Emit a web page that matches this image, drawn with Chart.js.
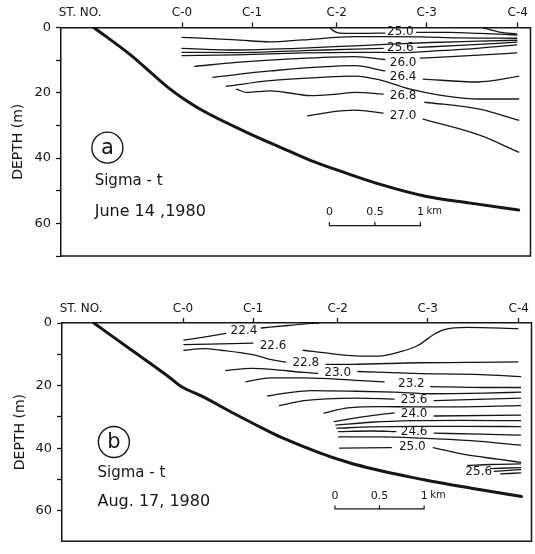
<!DOCTYPE html>
<html>
<head>
<meta charset="utf-8">
<title>Sigma-t sections</title>
<script src="https://cdn.jsdelivr.net/npm/chart.js@4.4.1/dist/chart.umd.min.js"></script>
<style>
  html, body { margin: 0; padding: 0; background: #fff; overflow: hidden; }
  #wrap { position: relative; width: 535px; height: 554px; }
  canvas { position: absolute; left: 0; }
</style>
</head>
<body>
<div id="wrap">
  <canvas id="chartA" width="535" height="280" style="top:0"></canvas>
  <canvas id="chartB" width="535" height="278" style="top:276px"></canvas>
</div>
<script>
const INK = '#151515';
const FONT = '"DejaVu Sans", "Liberation Sans", sans-serif';

// top axis: station names and their distance along the section (km)
const STATIONS = ['ST. NO.', 'C-0', 'C-1', 'C-2', 'C-3', 'C-4'];
const STATION_KM = [0.21, 1.33, 2.10, 3.03, 4.02, 5.02];
const DEPTH_LABELS = [0, 20, 40, 60];

// ---- (a) June 14, 1980 : [km, depth m], null = break for a label
const BOTTOM_A = [[0.36, 0], [0.76, 8.3], [1.20, 18.9], [1.33, 21.5], [1.56, 25.5], [2.04, 32.1],
  [2.41, 36.7], [2.74, 40.7], [3.08, 44.1], [3.5, 48], [4.02, 51.8], [4.5, 53.8], [5.03, 55.9]];
const A_248 = [[4.63, 0], [4.82, 1.4], [5.01, 2.0]];
const A_250 = [[2.95, 0], [3.02, 1.4], [3.12, 1.8], [3.30, 1.8], [3.56, 1.7], null, [3.91, 1.5], [4.27, 1.5], [4.60, 1.8], [5.01, 2.3]];
const A_252 = [[1.33, 3.0], [1.93, 3.8], [2.30, 4.4], [2.66, 3.8], [3.23, 2.8], [3.56, 2.8], [3.95, 2.9], [4.38, 3.2], [5.01, 3.3]];
const A_254 = [[1.33, 6.4], [1.93, 6.9], [2.66, 6.3], [3.23, 5.6], [3.62, 5.1], [4.05, 4.6], [4.60, 4.2], [5.01, 3.9]];
const A_256 = [[1.33, 7.6], [1.93, 7.7], [2.66, 7.1], [3.23, 6.6], [3.54, 6.4], null, [3.92, 6.1], [4.38, 5.5], [5.01, 4.5]];
const A_258 = [[1.33, 8.6], [1.93, 8.4], [2.66, 7.8], [3.23, 7.6], [3.73, 7.7], [4.16, 7.1], [4.60, 6.3], [5.01, 5.3]];
const A_260 = [[1.47, 11.9], [1.93, 10.7], [2.48, 9.7], [3.23, 8.9], [3.56, 9.8], null, [3.95, 9.4], [4.49, 8.6], [5.01, 7.8]];
const A_264 = [[1.67, 15.3], [2.30, 13.3], [3.23, 11.7], [3.56, 13.3], null, [3.98, 15.8], [4.58, 16.7], [5.03, 15.0]];
const A_266 = [[1.82, 18.0], [2.30, 16.3], [2.85, 15.3], [3.23, 14.9], [3.51, 16.1], [3.84, 18.9], [4.16, 20.7], [4.60, 21.9], [5.03, 21.9]];
const A_268 = [[1.93, 18.9], [2.04, 19.9], [2.30, 19.4], [2.59, 20.4], [2.74, 20.9], [3.03, 20.4], [3.23, 19.9], [3.54, 20.4], null, [4.00, 22.9], [4.60, 25.0], [5.03, 28.4]];
const A_270 = [[2.71, 27.1], [2.96, 25.9], [3.23, 25.3], [3.54, 26.2], null, [3.98, 28.1], [4.60, 33.0], [5.03, 38.2]];
const LABELS_A = [['25.0', 3.73, 1.4], ['25.6', 3.73, 6.3], ['26.0', 3.76, 10.9], ['26.4', 3.76, 15.2], ['26.8', 3.76, 21.0], ['27.0', 3.76, 27.1]];
const SCALE_A = [2.95, 3.45, 3.95];

// ---- (b) Aug. 17, 1980
const BOTTOM_B = [[0.35, 0], [0.79, 9.2], [1.20, 17.8], [1.31, 20.3], [1.53, 23.3], [1.89, 28.9], [2.19, 33.4],
  [2.41, 36.5], [3.14, 44.5], [3.98, 50.1], [4.5, 52.8], [5.05, 55.4]];
const B_224 = [[1.34, 5.5], [1.56, 4.5], [1.80, 3.3], null, [2.19, 1.6], [2.48, 0.8], [2.74, 0.15], [2.82, 0]];
const B_226 = [[1.34, 6.9], [1.75, 6.7], [2.10, 6.4], null, [2.65, 8.7], [2.96, 9.8], [3.23, 10.5], [3.47, 10.6], [3.73, 9.1],
  [3.91, 7.2], [4.09, 3.6], [4.20, 2.1], [4.46, 1.4], [5.01, 1.8]];
const B_228 = [[1.34, 8.7], [1.56, 8.2], [1.75, 8.7], [2.11, 10.2], [2.30, 11.7], [2.46, 12.5], null, [2.90, 13.2], [3.18, 13.2], [3.91, 12.7], [4.46, 12.6], [5.01, 12.4]];
const B_230 = [[1.80, 15.2], [2.08, 14.5], [2.30, 14.8], [2.66, 15.8], [2.81, 16.1], null, [3.25, 15.5], [3.87, 16.1], [4.60, 16.5], [5.04, 17.1]];
const B_232 = [[2.02, 18.8], [2.30, 17.5], [2.66, 17.5], [3.23, 18.3], [3.54, 18.8], null, [4.05, 20.3], [4.64, 20.6], [5.04, 20.6]];
const B_234 = [[2.26, 23.3], [2.48, 22.3], [2.74, 21.6], [3.23, 21.8], [3.65, 22.1], [4.05, 22.6], [4.64, 22.4], [5.04, 22.1]];
const B_236 = [[2.39, 26.4], [2.66, 24.8], [3.23, 24.0], [3.65, 24.3], null, [4.09, 24.8], [5.04, 24.0]];
const B_238 = [[2.88, 28.8], [3.14, 27.1], [3.51, 26.7], [3.87, 26.8], [4.27, 26.8], [5.04, 26.4]];
const B_240 = [[2.99, 31.5], [3.23, 30.3], [3.65, 28.7], null, [4.09, 29.7], [5.04, 29.4]];
const B_242 = [[3.01, 32.6], [3.40, 31.7], [3.87, 31.2], [4.38, 31.1], [5.04, 31.2]];
const B_244 = [[3.02, 33.6], [3.40, 33.2], [3.87, 33.0], [4.38, 33.0], [5.04, 33.1]];
const B_246 = [[3.04, 34.7], [3.40, 34.5], [3.67, 34.7], null, [4.09, 35.2], [4.60, 35.5], [5.04, 35.8]];
const B_248 = [[3.04, 36.4], [3.51, 36.4], [3.95, 36.8], [4.49, 37.6], [5.04, 39.0]];
const B_250 = [[3.05, 40.0], [3.62, 39.8], null, [4.08, 39.8], [4.42, 42.0], [4.79, 43.5], [5.04, 44.5]];
const B_252 = [[4.46, 45.5], [4.71, 45.2], [5.04, 45.0]];
const B_254 = [[4.71, 46.5], [5.04, 46.2]];
const B_256 = [[4.75, 47.4], [5.04, 46.8]];
const B_258 = [[4.82, 48.2], [5.04, 47.9]];
const LABELS_B = [['22.4', 2.00, 2.4], ['22.6', 2.32, 7.4], ['22.8', 2.68, 12.7], ['23.0', 3.03, 15.8], ['23.2', 3.84, 19.6],
  ['23.6', 3.87, 24.6], ['24.0', 3.87, 29.1], ['24.6', 3.87, 34.9], ['25.0', 3.85, 39.5], ['25.6', 4.58, 47.4]];
const SCALE_B = [3.0, 3.49, 3.98];

function toPts(line) {
  return line.map((p, i) => p === null ? { x: line[i - 1][0], y: null } : { x: p[0], y: p[1] });
}

function lineSet(line, width, extra) {
  return Object.assign({
    data: toPts(line),
    borderColor: INK,
    backgroundColor: INK,
    borderWidth: width,
    pointRadius: 0,
    fill: false,
    spanGaps: false,
    cubicInterpolationMode: 'monotone',
    borderCapStyle: 'round',
    borderJoinStyle: 'round'
  }, extra || {});
}

const decor = {
  id: 'decor',
  afterDatasetsDraw(chart, args, o) {
    const { ctx, chartArea: a, scales: { x, y } } = chart;
    const px = km => x.getPixelForValue(km);
    const py = d => y.getPixelForValue(d);
    ctx.save();
    ctx.strokeStyle = INK;
    ctx.fillStyle = INK;
    // right and bottom edge of the frame
    ctx.lineWidth = 1.5;
    ctx.beginPath();
    ctx.moveTo(a.right, a.top);
    ctx.lineTo(a.right, a.bottom);
    ctx.lineTo(a.left, a.bottom);
    ctx.stroke();
    // contour values
    ctx.textAlign = 'center';
    ctx.textBaseline = 'middle';
    ctx.font = '12px ' + FONT;
    o.labels.forEach(([t, km, d]) => ctx.fillText(t, px(km), py(d)));
    // scale bar text
    ctx.font = '11px ' + FONT;
    ctx.fillText('0', px(o.scale[0]), py(o.scaleText));
    ctx.fillText('0.5', px(o.scale[1]), py(o.scaleText));
    ctx.fillText('1', px(o.scale[2]), py(o.scaleText));
    ctx.textAlign = 'left';
    ctx.font = '10px ' + FONT;
    ctx.fillText('km', px(o.scale[2]) + 6, py(o.scaleText) - 1);
    // circled panel letter
    const cx = px(o.letterAt[0]), cy = py(o.letterAt[1]);
    ctx.lineWidth = 1.4;
    ctx.beginPath();
    ctx.arc(cx, cy, 15.5, 0, Math.PI * 2);
    ctx.stroke();
    ctx.textAlign = 'center';
    ctx.font = '21px ' + FONT;
    ctx.fillText(o.letter, cx, cy + 1);
    // panel notes
    ctx.textAlign = 'left';
    o.notes.forEach(([t, km, d, size]) => {
      ctx.font = size + 'px ' + FONT;
      ctx.fillText(t, px(km), py(d));
    });
    ctx.restore();
  }
};

function makeChart(id, p) {
  const datasets = p.lines.map(l => lineSet(l, 1.3));
  datasets.push(lineSet(p.bottom, 3));
  const [s0, s1, s2] = p.scale;
  const bd = p.scaleDepth;
  const straight = { tension: 0, cubicInterpolationMode: 'default' };
  datasets.push(lineSet([[s0, bd - 1], [s0, bd], [s2, bd], [s2, bd - 1]], 1.2, straight));
  datasets.push(lineSet([[s1, bd], [s1, bd - 1]], 1.2, straight));

  return new Chart(document.getElementById(id), {
    type: 'line',
    data: { datasets },
    plugins: [decor],
    options: {
      responsive: false,
      animation: false,
      events: [],
      layout: { padding: p.padding },
      plugins: {
        legend: { display: false },
        tooltip: { enabled: false },
        decor: p.decor
      },
      scales: {
        x: {
          type: 'linear',
          position: 'top',
          min: 0,
          max: 5.16,
          afterBuildTicks: s => { s.ticks = STATION_KM.map(v => ({ value: v })); },
          afterFit: s => { s.height = 27.5; },
          ticks: {
            autoSkip: false,
            maxRotation: 0,
            padding: 2,
            color: INK,
            font: { family: FONT, size: 12 },
            callback: (v, i) => STATIONS[i]
          },
          grid: {
            drawOnChartArea: false,
            tickLength: 5,
            tickWidth: 1.3,
            tickColor: c => c.index === 0 ? 'rgba(0,0,0,0)' : INK
          },
          border: { color: INK, width: 1.5 }
        },
        y: {
          type: 'linear',
          reverse: true,
          min: 0,
          max: p.yMax,
          afterFit: s => { s.width = p.axisWidth; },
          ticks: {
            stepSize: 10,
            includeBounds: false,
            padding: 5,
            color: INK,
            font: { family: FONT, size: 13 },
            callback: v => DEPTH_LABELS.includes(v) ? String(v) : ''
          },
          grid: { drawOnChartArea: false, tickLength: 5, tickWidth: 1.3, tickColor: INK },
          border: { color: INK, width: 1.5 },
          title: {
            display: true,
            text: 'DEPTH (m)',
            color: INK,
            font: { family: FONT, size: 14 },
            padding: { top: p.titlePad, bottom: 0 }
          }
        }
      }
    }
  });
}

makeChart('chartA', {
  lines: [A_248, A_250, A_252, A_254, A_256, A_258, A_260, A_264, A_266, A_268, A_270],
  bottom: BOTTOM_A,
  scale: SCALE_A,
  scaleDepth: 60.7,
  yMax: 70,
  axisWidth: 61,
  titlePad: 10,
  padding: { top: 0, right: 4.5, bottom: 24, left: 0 },
  decor: {
    labels: LABELS_A,
    scale: SCALE_A,
    scaleText: 56.6,
    letter: 'a',
    letterAt: [0.51, 36.8],
    notes: [['Sigma - t', 0.37, 47.2, 15], ['June 14 ,1980', 0.37, 56.4, 16]]
  }
});

makeChart('chartB', {
  lines: [B_224, B_226, B_228, B_230, B_232, B_234, B_236, B_238, B_240, B_242, B_244, B_246, B_248, B_250, B_252, B_254, B_256, B_258],
  bottom: BOTTOM_B,
  scale: SCALE_B,
  scaleDepth: 59.4,
  yMax: 69.7,
  axisWidth: 62,
  titlePad: 12,
  padding: { top: 19.5, right: 3.5, bottom: 1, left: 0 },
  decor: {
    labels: LABELS_B,
    scale: SCALE_B,
    scaleText: 55.4,
    letter: 'b',
    letterAt: [0.57, 38.0],
    notes: [['Sigma - t', 0.39, 48.1, 15], ['Aug. 17, 1980', 0.39, 57.2, 16]]
  }
});
</script>
</body>
</html>
